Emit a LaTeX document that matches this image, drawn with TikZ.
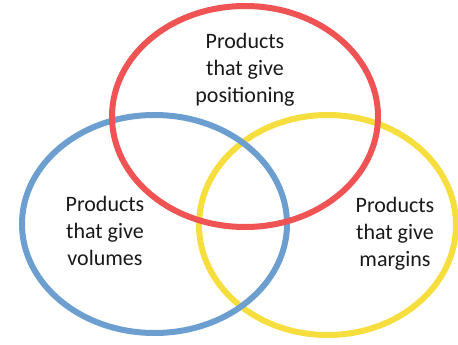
\documentclass[tikz,border=0pt]{standalone}
\usepackage{fontspec}
\setmainfont{Carlito}
\definecolor{vred}{HTML}{EF5353}
\definecolor{vblue}{HTML}{6C9FD0}
\definecolor{vyellow}{HTML}{F7DE3F}
\begin{document}
\begin{tikzpicture}[x=1pt,y=-1pt,
  ring/.style={line width=6pt},
  lbl/.style={inner sep=0pt, align=center, font=\fontsize{22}{27}\selectfont, text=black!90}]
\useasboundingbox (0,0) rectangle (458,345);
\coordinate (cy) at (327.5,225);
\coordinate (cb) at (154.5,224);
\coordinate (cr) at (245,116.5);
\draw[ring, vyellow] (cy) ellipse [x radius=128.5, y radius=110];
\draw[ring, vblue] (cb) ellipse [x radius=132.5, y radius=109];
\draw[ring, vred] (cr) ellipse [x radius=133, y radius=110.5];
\node[lbl] (tpos) at (245,69.5) {Products\\that give\\positioning};
\node[lbl] (tvol) at (105,231) {Products\\that give\\volumes};
\node[lbl] (tmar) at (395,233.5) {Products\\that give\\margins};
\end{tikzpicture}
\end{document}
